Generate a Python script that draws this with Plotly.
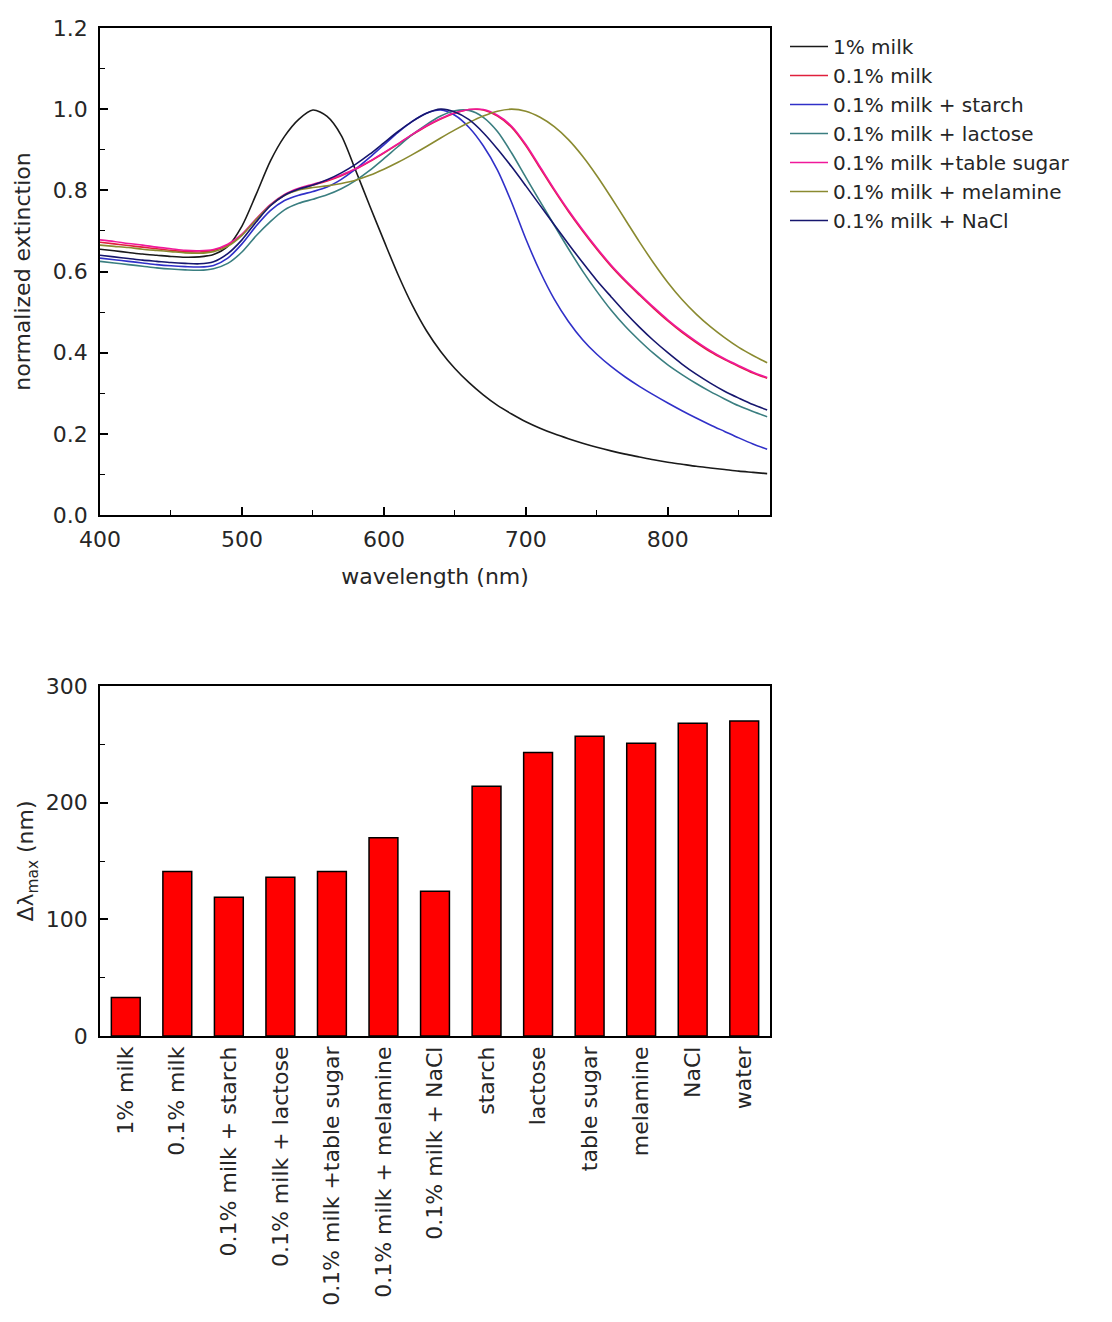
import plotly.graph_objects as go

# ---- extinction spectra (normalized), 10 nm steps ----
wavelength = list(range(400, 880, 10))

milk_1 = [0.655, 0.651, 0.647, 0.643, 0.640, 0.637, 0.635, 0.636, 0.642, 0.662,
          0.712, 0.790, 0.872, 0.933, 0.975, 0.998, 0.982, 0.935, 0.850, 0.762,
          0.676, 0.592, 0.517, 0.454, 0.403, 0.361, 0.326, 0.296, 0.270, 0.249,
          0.230, 0.214, 0.200, 0.188, 0.177, 0.167, 0.158, 0.150, 0.143, 0.136,
          0.130, 0.125, 0.120, 0.116, 0.112, 0.108, 0.105, 0.102]

milk_01 = [0.672, 0.668, 0.664, 0.660, 0.656, 0.652, 0.649, 0.648, 0.652, 0.665,
           0.690, 0.728, 0.763, 0.788, 0.803, 0.813, 0.823, 0.836, 0.852, 0.871,
           0.892, 0.914, 0.937, 0.958, 0.976, 0.990, 0.999, 0.998, 0.983, 0.955,
           0.910, 0.855, 0.800, 0.748, 0.700, 0.655, 0.613, 0.576, 0.542, 0.509,
           0.478, 0.450, 0.425, 0.402, 0.383, 0.366, 0.350, 0.337]

milk_starch = [0.633, 0.629, 0.625, 0.621, 0.617, 0.614, 0.612, 0.611, 0.615, 0.633,
               0.668, 0.712, 0.750, 0.775, 0.788, 0.797, 0.808, 0.827, 0.852, 0.881,
               0.912, 0.943, 0.970, 0.990, 0.998, 0.985, 0.955, 0.910, 0.850, 0.770,
               0.680, 0.600, 0.532, 0.477, 0.432, 0.396, 0.366, 0.340, 0.317, 0.296,
               0.276, 0.257, 0.239, 0.222, 0.206, 0.190, 0.175, 0.162]

milk_lactose = [0.625, 0.621, 0.617, 0.613, 0.609, 0.606, 0.604, 0.603, 0.607, 0.620,
                0.648, 0.688, 0.723, 0.752, 0.768, 0.778, 0.789, 0.804, 0.824, 0.849,
                0.878, 0.908, 0.937, 0.962, 0.983, 0.996, 0.997, 0.980, 0.945, 0.892,
                0.832, 0.773, 0.714, 0.656, 0.601, 0.551, 0.505, 0.465, 0.430, 0.398,
                0.370, 0.346, 0.324, 0.304, 0.286, 0.269, 0.255, 0.242]

milk_sugar = [0.678, 0.674, 0.669, 0.665, 0.660, 0.656, 0.652, 0.651, 0.654, 0.667,
              0.692, 0.730, 0.765, 0.790, 0.805, 0.815, 0.825, 0.838, 0.853, 0.872,
              0.893, 0.915, 0.938, 0.959, 0.977, 0.991, 0.999, 0.999, 0.985, 0.958,
              0.913, 0.858, 0.803, 0.751, 0.703, 0.658, 0.616, 0.579, 0.545, 0.512,
              0.481, 0.453, 0.428, 0.405, 0.385, 0.368, 0.352, 0.339]

milk_melamine = [0.665, 0.662, 0.659, 0.655, 0.652, 0.649, 0.646, 0.645, 0.649, 0.662,
                 0.689, 0.728, 0.763, 0.788, 0.801, 0.807, 0.811, 0.817, 0.825, 0.837,
                 0.852, 0.869, 0.888, 0.908, 0.929, 0.949, 0.967, 0.983, 0.995, 1.000,
                 0.995, 0.980, 0.957, 0.925, 0.884, 0.836, 0.783, 0.728, 0.673, 0.621,
                 0.573, 0.531, 0.495, 0.464, 0.437, 0.413, 0.393, 0.375]

milk_nacl = [0.640, 0.636, 0.632, 0.628, 0.625, 0.622, 0.620, 0.619, 0.624, 0.644,
             0.678, 0.722, 0.762, 0.788, 0.803, 0.813, 0.826, 0.843, 0.864, 0.889,
             0.917, 0.945, 0.970, 0.990, 1.000, 0.993, 0.974, 0.942, 0.902, 0.858,
             0.811, 0.763, 0.715, 0.668, 0.622, 0.578, 0.538, 0.499, 0.463, 0.430,
             0.400, 0.372, 0.347, 0.325, 0.305, 0.288, 0.272, 0.259]

spectra_names = ["1% milk", "0.1% milk", "0.1% milk + starch", "0.1% milk + lactose",
                 "0.1% milk +table sugar", "0.1% milk + melamine", "0.1% milk + NaCl"]
spectra_values = [milk_1, milk_01, milk_starch, milk_lactose, milk_sugar, milk_melamine, milk_nacl]
spectra_colors = ["#1a1a1a", "#e0203c", "#3030c8", "#3a7e80", "#f0189a", "#8a8a30", "#16166e"]

# ---- peak shift bars ----
samples = ["1% milk", "0.1% milk", "0.1% milk + starch", "0.1% milk + lactose",
           "0.1% milk +table sugar", "0.1% milk + melamine", "0.1% milk + NaCl",
           "starch", "lactose", "table sugar", "melamine", "NaCl", "water"]
shift_nm = [33, 141, 119, 136, 141, 170, 124, 214, 243, 257, 251, 268, 270]

FONT = "DejaVu Sans"
TXT = "#262626"

fig = go.Figure()

for name, vals, col in zip(spectra_names, spectra_values, spectra_colors):
    fig.add_trace(go.Scatter(x=wavelength, y=vals, mode="lines", name=name,
                             line=dict(color=col, width=1.6, shape="spline", smoothing=0.8),
                             xaxis="x", yaxis="y"))

fig.add_trace(go.Bar(x=samples, y=shift_nm, marker=dict(color="#ff0000",
                     line=dict(color="#000000", width=1.5)),
                     width=0.56, showlegend=False, xaxis="x2", yaxis="y2"))

W, H = 1112, 1322

def px_x(a, b):
    return [a / W, b / W]

def px_y(top, bottom):
    return [1 - bottom / H, 1 - top / H]

axis_common = dict(showline=True, linecolor="black", linewidth=1.5, mirror=True,
                   ticks="inside", ticklen=8, tickwidth=1.5, tickcolor="black",
                   showgrid=False, zeroline=False, automargin=False,
                   tickfont=dict(family=FONT, size=22, color=TXT))

minor_style = dict(ticks="inside", ticklen=5, tickwidth=1.2, tickcolor="black")

fig.update_layout(
    width=W, height=H,
    margin=dict(l=0, r=0, t=0, b=0),
    paper_bgcolor="white", plot_bgcolor="white",
    font=dict(family=FONT, size=22, color=TXT),
    xaxis=dict(domain=px_x(100, 770), range=[400, 872], tickvals=[400, 500, 600, 700, 800],
               minor=dict(dtick=50, tick0=400, **minor_style),
               ticklabelstandoff=4,
               title=dict(text="wavelength (nm)", standoff=17,
                          font=dict(family=FONT, size=22, color=TXT)),
               anchor="y", **axis_common),
    yaxis=dict(domain=px_y(28, 515), range=[0, 1.2], tickvals=[0, 0.2, 0.4, 0.6, 0.8, 1.0, 1.2],
               ticktext=["0.0", "0.2", "0.4", "0.6", "0.8", "1.0", "1.2"],
               minor=dict(dtick=0.1, tick0=0, **minor_style),
               ticklabelstandoff=6,
               title=dict(text="normalized extinction", standoff=16,
                          font=dict(family=FONT, size=22, color=TXT)),
               anchor="x", **axis_common),
    xaxis2=dict(domain=px_x(100, 770), range=[-0.5, 12.5], type="category",
                tickangle=-90, ticks="", anchor="y2", automargin=False,
                showline=True, linecolor="black", linewidth=1.5, mirror=True,
                showgrid=False, zeroline=False,
                tickfont=dict(family=FONT, size=22, color=TXT)),
    yaxis2=dict(domain=px_y(686, 1036), range=[0, 300], tickvals=[0, 100, 200, 300],
                minor=dict(dtick=50, tick0=0, **minor_style),
                ticklabelstandoff=6,
                title=dict(text="Δλ<sub>max</sub> (nm)", standoff=6,
                           font=dict(family=FONT, size=22, color=TXT)),
                anchor="x2", **axis_common),
    legend=dict(x=785 / W, y=1 - 27 / H, xanchor="left", yanchor="top",
                font=dict(family=FONT, size=20, color=TXT),
                bgcolor="rgba(0,0,0,0)", borderwidth=0, tracegroupgap=0,
                itemwidth=38),
    bargap=0.44,
)

fig.write_html("out.html")
